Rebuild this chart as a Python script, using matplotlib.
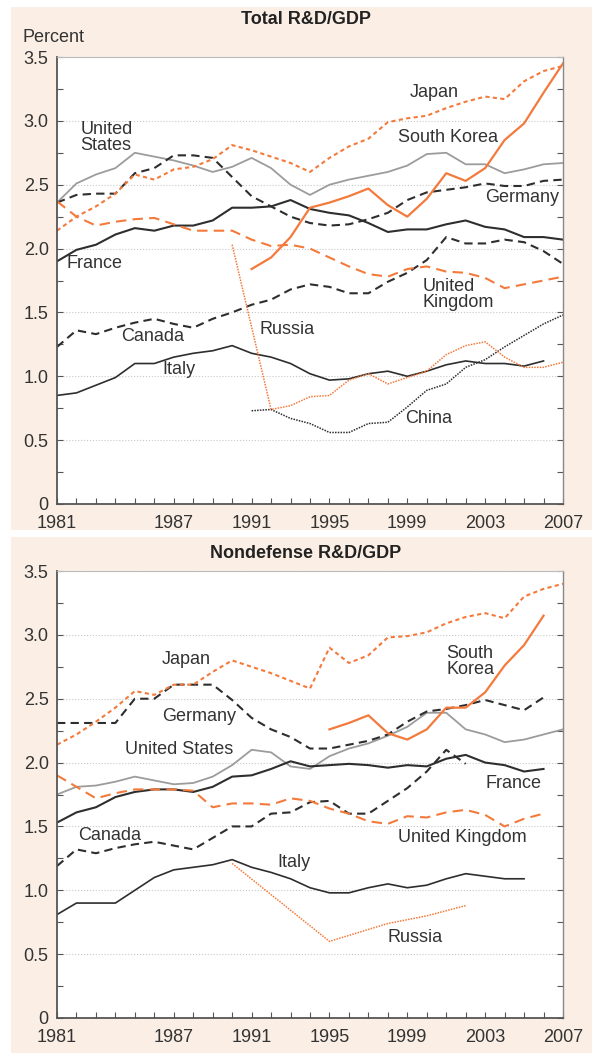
import numpy as np
import matplotlib.pyplot as plt
from matplotlib.patches import Rectangle
from matplotlib.ticker import MultipleLocator, FuncFormatter

plt.rcParams["font.family"] = ["Liberation Sans", "DejaVu Sans"]

YEARS = list(range(1981, 2008))

# ---- Total R&D/GDP (percent) ----
TOT_US = [2.36, 2.51, 2.58, 2.63, 2.75, 2.72, 2.69, 2.65, 2.60, 2.64,
          2.71, 2.63, 2.50, 2.42, 2.50, 2.54, 2.57, 2.60, 2.65, 2.74,
          2.75, 2.66, 2.66, 2.59, 2.62, 2.66, 2.67]
TOT_JAPAN = [2.14, 2.25, 2.33, 2.43, 2.58, 2.54, 2.62, 2.64, 2.70, 2.81,
             2.77, 2.72, 2.67, 2.60, 2.71, 2.80, 2.86, 2.99, 3.02, 3.04,
             3.10, 3.15, 3.19, 3.17, 3.31, 3.39, 3.43]
TOT_GERMANY = [2.36, 2.42, 2.43, 2.43, 2.59, 2.63, 2.73, 2.73, 2.71, 2.56,
               2.41, 2.33, 2.25, 2.20, 2.18, 2.19, 2.23, 2.28, 2.38, 2.44,
               2.46, 2.48, 2.51, 2.49, 2.49, 2.53, 2.54]
TOT_FRANCE = [1.90, 1.99, 2.03, 2.11, 2.16, 2.14, 2.18, 2.18, 2.22, 2.32,
              2.32, 2.33, 2.38, 2.31, 2.28, 2.26, 2.20, 2.13, 2.15, 2.15,
              2.19, 2.22, 2.17, 2.15, 2.09, 2.09, 2.07]
TOT_UK = [2.37, 2.25, 2.18, 2.21, 2.23, 2.24, 2.19, 2.14, 2.14, 2.14,
          2.07, 2.02, 2.03, 2.00, 1.93, 1.86, 1.80, 1.78, 1.84, 1.86,
          1.82, 1.81, 1.77, 1.69, 1.72, 1.75, 1.78]
TOT_CANADA = [1.23, 1.36, 1.33, 1.38, 1.42, 1.45, 1.41, 1.38, 1.45, 1.50,
              1.56, 1.60, 1.68, 1.72, 1.70, 1.65, 1.65, 1.74, 1.81, 1.91,
              2.09, 2.04, 2.04, 2.07, 2.05, 1.98, 1.88]
TOT_ITALY_YEARS = list(range(1981, 2007))
TOT_ITALY = [0.85, 0.87, 0.93, 0.99, 1.10, 1.10, 1.15, 1.18, 1.20, 1.24,
             1.18, 1.15, 1.10, 1.02, 0.97, 0.98, 1.02, 1.04, 1.00, 1.04,
             1.09, 1.12, 1.10, 1.10, 1.08, 1.12]
TOT_KOREA_YEARS = list(range(1991, 2008))
TOT_KOREA = [1.84, 1.93, 2.09, 2.32, 2.36, 2.41, 2.47, 2.34, 2.25, 2.39,
             2.59, 2.53, 2.63, 2.85, 2.98, 3.22, 3.45]
TOT_RUSSIA_YEARS = [1990] + list(range(1992, 2008))
TOT_RUSSIA = [2.03, 0.74, 0.77, 0.84, 0.85, 0.97, 1.02, 0.94, 0.99, 1.04,
              1.17, 1.24, 1.27, 1.15, 1.07, 1.07, 1.11]
TOT_CHINA_YEARS = list(range(1991, 2008))
TOT_CHINA = [0.73, 0.74, 0.67, 0.63, 0.56, 0.56, 0.63, 0.64, 0.76, 0.89,
             0.94, 1.07, 1.13, 1.23, 1.32, 1.41, 1.48]

# ---- Nondefense R&D/GDP (percent) ----
ND_JAPAN = [2.14, 2.22, 2.32, 2.43, 2.56, 2.53, 2.61, 2.61, 2.71, 2.80,
            2.75, 2.70, 2.64, 2.58, 2.90, 2.78, 2.84, 2.98, 2.99, 3.02,
            3.09, 3.14, 3.17, 3.13, 3.30, 3.36, 3.40]
ND_US = [1.75, 1.81, 1.82, 1.85, 1.89, 1.86, 1.83, 1.84, 1.89, 1.98,
         2.10, 2.08, 1.97, 1.95, 2.05, 2.11, 2.15, 2.21, 2.28, 2.39,
         2.39, 2.26, 2.22, 2.16, 2.18, 2.22, 2.26]
ND_TO2006 = list(range(1981, 2007))
ND_GERMANY = [2.31, 2.31, 2.31, 2.31, 2.50, 2.50, 2.61, 2.61, 2.61, 2.49,
              2.35, 2.26, 2.20, 2.11, 2.11, 2.14, 2.17, 2.22, 2.32, 2.40,
              2.42, 2.45, 2.49, 2.45, 2.41, 2.51]
ND_FRANCE = [1.53, 1.61, 1.65, 1.73, 1.77, 1.79, 1.79, 1.77, 1.81, 1.89,
             1.90, 1.95, 2.01, 1.97, 1.98, 1.99, 1.98, 1.96, 1.98, 1.97,
             2.03, 2.06, 2.00, 1.98, 1.93, 1.95]
ND_UK = [1.90, 1.81, 1.72, 1.76, 1.79, 1.79, 1.79, 1.78, 1.65, 1.68,
         1.68, 1.67, 1.72, 1.70, 1.64, 1.60, 1.54, 1.52, 1.58, 1.57,
         1.61, 1.63, 1.59, 1.50, 1.56, 1.60]
ND_KOREA_YEARS = list(range(1995, 2007))
ND_KOREA = [2.26, 2.31, 2.37, 2.23, 2.18, 2.26, 2.43, 2.43, 2.55, 2.76,
            2.92, 3.15]
ND_CANADA_YEARS = list(range(1981, 2003))
ND_CANADA = [1.19, 1.32, 1.29, 1.33, 1.36, 1.38, 1.35, 1.32, 1.41, 1.50,
             1.50, 1.60, 1.61, 1.69, 1.70, 1.60, 1.60, 1.70, 1.80, 1.93,
             2.10, 1.99]
ND_ITALY_YEARS = list(range(1981, 2006))
ND_ITALY = [0.81, 0.90, 0.90, 0.90, 1.00, 1.10, 1.16, 1.18, 1.20, 1.24,
            1.18, 1.14, 1.09, 1.02, 0.98, 0.98, 1.02, 1.05, 1.02, 1.04,
            1.09, 1.13, 1.11, 1.09, 1.09]
ND_RUSSIA_YEARS = [1990, 1995, 1998, 2000, 2002]
ND_RUSSIA = [1.21, 0.60, 0.74, 0.80, 0.88]

XTICKS = [1981, 1987, 1991, 1995, 1999, 2003, 2007]

ORANGE = "#f47a3c"
DARK = "#2e2e2e"
GRAY = "#9c9c9c"
TXT = "#333333"

STYLE = {
    "US":      dict(color=GRAY, lw=1.3, ls="-"),
    "Japan":   dict(color=ORANGE, lw=1.5, ls=(0, (2, 1.6))),
    "Germany": dict(color=DARK, lw=1.5, ls=(0, (4, 2.5))),
    "France":  dict(color=DARK, lw=1.5, ls="-"),
    "UK":      dict(color=ORANGE, lw=1.5, ls=(0, (5, 3))),
    "Canada":  dict(color=DARK, lw=1.5, ls=(0, (4, 2.5))),
    "Italy":   dict(color=DARK, lw=1.2, ls="-"),
    "Korea":   dict(color=ORANGE, lw=1.6, ls="-"),
    "Russia":  dict(color=ORANGE, lw=1.1, ls=(0, (1, 0.8))),
    "China":   dict(color=DARK, lw=1.1, ls=(0, (1, 0.8))),
}


def style_axes(ax):
    ax.set_facecolor("white")
    ax.set_xlim(1981, 2007)
    ax.set_ylim(0, 3.5)
    ax.yaxis.set_major_locator(MultipleLocator(0.5))
    ax.yaxis.set_minor_locator(MultipleLocator(0.25))
    ax.yaxis.set_major_formatter(FuncFormatter(lambda v, p: "0" if v == 0 else f"{v:.1f}"))
    ax.set_xticks(XTICKS)
    ax.xaxis.set_minor_locator(MultipleLocator(1))
    ax.tick_params(axis="both", which="both", direction="in", colors="#555555",
                   labelcolor=TXT, labelsize=13, width=0.8)
    ax.tick_params(axis="y", which="both", right=True, length=4, pad=6)
    ax.tick_params(axis="x", which="both", length=4, pad=8)
    ax.grid(axis="y", which="major", linestyle=":", color="#c8c8c8", lw=0.8)
    ax.set_axisbelow(True)
    ax.spines["left"].set_color("#555555")
    ax.spines["bottom"].set_color("#555555")
    ax.spines["left"].set_linewidth(1.3)
    ax.spines["bottom"].set_linewidth(1.3)
    ax.spines["right"].set_color("#888888")
    ax.spines["top"].set_color("#bbbbbb")
    ax.spines["right"].set_linewidth(1.0)
    ax.spines["top"].set_linewidth(0.8)


fig = plt.figure(figsize=(5.95, 10.55), dpi=100)
fig.patch.set_facecolor("white")
for y0, h in [(1 - 530 / 1055, 523 / 1055), (1 - 1053 / 1055, 516 / 1055)]:
    fig.patches.append(Rectangle((11 / 595, y0), 581 / 595, h, transform=fig.transFigure,
                                 facecolor="#fbefe5", edgecolor="none", zorder=-5))

ax1 = fig.add_axes([57 / 595, 1 - 504 / 1055, 506 / 595, 447 / 1055])
ax2 = fig.add_axes([57 / 595, 1 - 1018 / 1055, 506 / 595, 447 / 1055])
style_axes(ax1)
style_axes(ax2)

# top panel
ax1.plot(YEARS, TOT_US, **STYLE["US"])
ax1.plot(YEARS, TOT_GERMANY, **STYLE["Germany"])
ax1.plot(YEARS, TOT_FRANCE, **STYLE["France"])
ax1.plot(YEARS, TOT_CANADA, **STYLE["Canada"])
ax1.plot(TOT_ITALY_YEARS, TOT_ITALY, **STYLE["Italy"])
ax1.plot(TOT_CHINA_YEARS, TOT_CHINA, **STYLE["China"])
ax1.plot(YEARS, TOT_UK, **STYLE["UK"])
ax1.plot(YEARS, TOT_JAPAN, **STYLE["Japan"])
ax1.plot(TOT_RUSSIA_YEARS, TOT_RUSSIA, **STYLE["Russia"])
ax1.plot(TOT_KOREA_YEARS, TOT_KOREA, **STYLE["Korea"])

lab = dict(fontsize=13, color=TXT, va="center", ha="left")
ax1.text(1982.2, 2.87, "United\nStates", linespacing=0.95, **lab)
ax1.text(1999.1, 3.22, "Japan", **lab)
ax1.text(1998.5, 2.87, "South Korea", **lab)
ax1.text(2003.0, 2.40, "Germany", **lab)
ax1.text(1981.5, 1.88, "France", **lab)
ax1.text(1999.8, 1.64, "United\nKingdom", linespacing=0.95, **lab)
ax1.text(1991.4, 1.37, "Russia", **lab)
ax1.text(1984.3, 1.31, "Canada", **lab)
ax1.text(1986.4, 1.05, "Italy", **lab)
ax1.text(1998.9, 0.67, "China", **lab)

# bottom panel
ax2.plot(YEARS, ND_US, **STYLE["US"])
ax2.plot(ND_TO2006, ND_GERMANY, **STYLE["Germany"])
ax2.plot(ND_TO2006, ND_FRANCE, **STYLE["France"])
ax2.plot(ND_CANADA_YEARS, ND_CANADA, **STYLE["Canada"])
ax2.plot(ND_ITALY_YEARS, ND_ITALY, **STYLE["Italy"])
ax2.plot(ND_TO2006, ND_UK, **STYLE["UK"])
ax2.plot(YEARS, ND_JAPAN, **STYLE["Japan"])
ax2.plot(ND_RUSSIA_YEARS, ND_RUSSIA, **STYLE["Russia"])
ax2.plot(ND_KOREA_YEARS, ND_KOREA, **STYLE["Korea"])

ax2.text(1986.4, 2.81, "Japan", **lab)
ax2.text(1986.4, 2.36, "Germany", **lab)
ax2.text(1984.5, 2.10, "United States", **lab)
ax2.text(2001.0, 2.79, "South\nKorea", linespacing=0.95, **lab)
ax2.text(2003.0, 1.84, "France", **lab)
ax2.text(1982.1, 1.43, "Canada", **lab)
ax2.text(1998.5, 1.41, "United Kingdom", **lab)
ax2.text(1992.3, 1.22, "Italy", **lab)
ax2.text(1998.0, 0.63, "Russia", **lab)

fig.text(306 / 595, 1 - 20 / 1055, "Total R&D/GDP", ha="center", va="center",
         fontsize=13, fontweight="bold", color="#222222")
fig.text(306 / 595, 1 - 553 / 1055, "Nondefense R&D/GDP", ha="center", va="center",
         fontsize=13, fontweight="bold", color="#222222")
fig.text(22 / 595, 1 - 38 / 1055, "Percent", ha="left", va="center",
         fontsize=13, color=TXT)

fig.savefig("out.png", dpi=100, facecolor=fig.get_facecolor())
